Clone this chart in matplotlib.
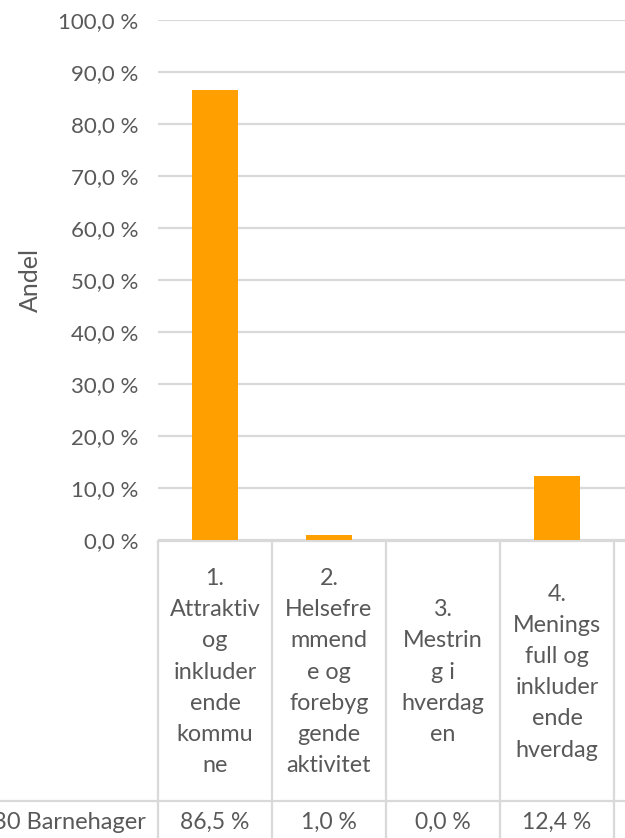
import numpy as np
import matplotlib
matplotlib.use("Agg")
import matplotlib.pyplot as plt

# Data
kategorier = ["1.\nAttraktiv\nog\ninkluder\nende\nkommu\nne",
              "2.\nHelsefre\nmmend\ne og\nforebyg\ngende\naktivitet",
              "3.\nMestrin\ng i\nhverdag\nen",
              "4.\nMenings\nfull og\ninkluder\nende\nhverdag"]
andel = [86.5, 1.0, 0.0, 12.4]
rad_navn = "30 Barnehager"
y_ticks = [0, 10, 20, 30, 40, 50, 60, 70, 80, 90, 100]

plt.rcParams['font.family'] = ['Lato', 'DejaVu Sans']
tekst = '#595959'
linje = '#d9d9d9'
oransje = '#ff9f00'

W, H = 625, 838
fig = plt.figure(figsize=(W / 100, H / 100), dpi=100)

def px(x0, y0, x1, y1):
    # piksler (topp-venstre) til figurbrøk
    return [x0 / W, 1 - y1 / H, (x1 - x0) / W, (y1 - y0) / H]

celle = 114
venstre = 158
xmax = -0.5 + (W - venstre) / celle

# Søylediagram
ax = fig.add_axes(px(venstre, 20, W, 540))
x = np.arange(len(andel))
ax.bar(x, andel, width=0.4, color=oransje, zorder=3)
ax.set_xlim(-0.5, xmax)
ax.set_ylim(0, 100)
ax.set_yticks(y_ticks)
ax.set_yticklabels([f"{v:.1f} %".replace(".", ",") for v in y_ticks],
                   fontsize=16, color=tekst)
ax.tick_params(axis='y', length=0, pad=14)
ax.set_xticks([])
ax.grid(axis='y', color=linje, linewidth=1.6, zorder=0)
for s in ax.spines.values():
    s.set_visible(False)
ax.set_ylabel("Andel", fontsize=18, color=tekst)
ax.yaxis.set_label_coords((42 - venstre) / (W - venstre), 0.5)

# Datatabell
tab = fig.add_axes(px(0, 540, W, H))
tab.set_xlim(-0.5 - venstre / celle, xmax)
tab.set_ylim(H, 540)
tab.axis('off')
for k in range(len(andel) + 1):
    tab.plot([k - 0.5, k - 0.5], [540, H], color=linje, lw=1.6)
tab.plot([-0.5, xmax], [541, 541], color=linje, lw=1.6)
tab.plot([-0.5 - venstre / celle, xmax], [801, 801], color=linje, lw=1.6)
for i, (kat, v) in enumerate(zip(kategorier, andel)):
    tab.text(i, 672, kat, ha='center', va='center', fontsize=16.8,
             color=tekst, linespacing=1.6)
    tab.text(i, 822, f"{v:.1f} %".replace(".", ","), ha='center',
             va='center', fontsize=16.5, color=tekst)
tab.text(-0.5 - 12 / celle, 822, rad_navn, ha='right', va='center',
         fontsize=17, color=tekst)

fig.savefig("out.png", dpi=100)
